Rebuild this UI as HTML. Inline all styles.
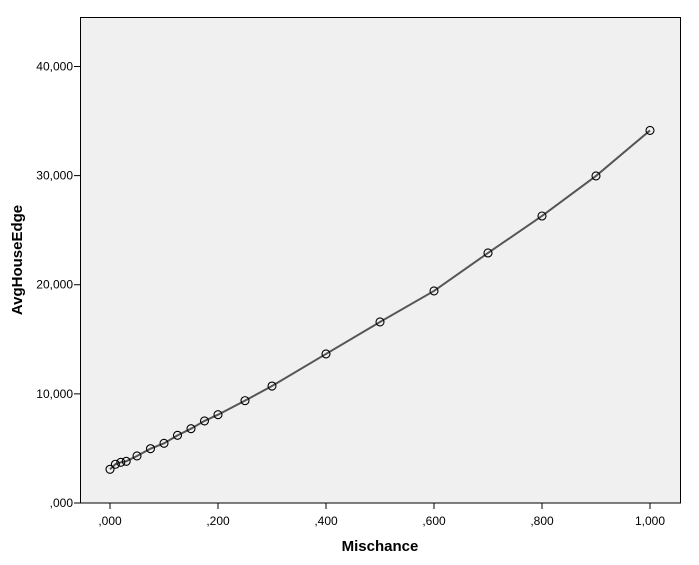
<!DOCTYPE html>
<html><head><meta charset="utf-8"><style>
body{margin:0;background:#fff;}
svg{display:block;font-family:"Liberation Sans",Arial,sans-serif;}
</style></head><body>
<svg id="chart" width="699" height="565" viewBox="0 0 699 565" xmlns="http://www.w3.org/2000/svg">
<rect x="80.5" y="17.5" width="600" height="485.5" fill="#f0f0f0" stroke="#000" stroke-width="1"/>
<g id="axes"></g>
<path id="line" fill="none" stroke="#555" stroke-width="2"/>
<g id="pts"></g>
<text x="380" y="551" text-anchor="middle" font-size="15" font-weight="bold">Mischance</text>
<text transform="translate(22,260) rotate(-90)" text-anchor="middle" font-size="15" font-weight="bold">AvgHouseEdge</text>
</svg>
<script>
const xValues=[0,0.01,0.02,0.03,0.05,0.075,0.1,0.125,0.15,0.175,0.2,0.25,0.3,0.4,0.5,0.6,0.7,0.8,0.9,1.0];
const yValues=[3090,3550,3730,3820,4310,4980,5470,6200,6810,7520,8090,9380,10720,13660,16590,19430,22910,26300,29970,34140];
const xTicks=[0,0.2,0.4,0.6,0.8,1.0];
const xTickLabels=[",000",",200",",400",",600",",800","1,000"];
const yTicks=[0,10000,20000,30000,40000];
const yTickLabels=[",000","10,000","20,000","30,000","40,000"];
const ns="http://www.w3.org/2000/svg";
const X=v=>110+v*540;
const Y=v=>503-v*0.010913;
const axes=document.getElementById('axes');
function mk(t,a,p){const e=document.createElementNS(ns,t);for(const k in a)e.setAttribute(k,a[k]);p.appendChild(e);return e;}
xTicks.forEach((t,i)=>{
  const l=mk('line',{x1:X(t),x2:X(t),y1:503,y2:509,stroke:'#000'},axes);
  
  
  const tx=mk('text',{x:X(t),y:525,'text-anchor':'middle','font-size':12},axes);
  tx.textContent=xTickLabels[i];
  
  
});
yTicks.forEach((t,i)=>{
  const l=mk('line',{x1:74,x2:80.5,y1:Y(t),y2:Y(t),stroke:'#000'},axes);
  
  
  const tx=mk('text',{x:73,y:Y(t)+4,'text-anchor':'end','font-size':12},axes);
  tx.textContent=yTickLabels[i];
  
  
});
document.getElementById('line').setAttribute('d',xValues.map((x,i)=>(i?'L':'M')+X(x)+','+Y(yValues[i])).join(''));
const pts=document.getElementById('pts');
xValues.forEach((x,i)=>{
  const c=mk('circle',{cx:X(x),cy:Y(yValues[i]),r:4,fill:'none',stroke:'#000','stroke-width':1.1},pts);
  
  
});
</script>
</body></html>
